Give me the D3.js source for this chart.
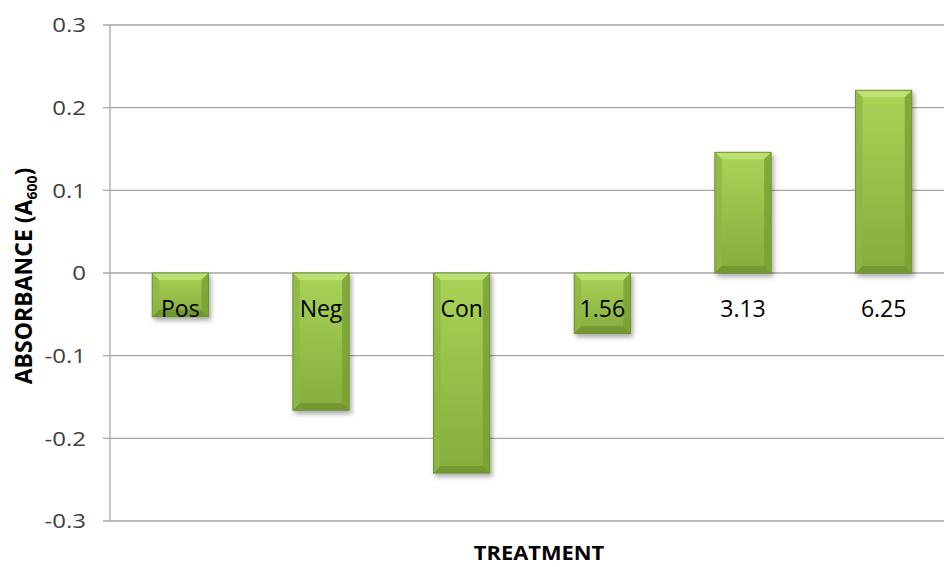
<!DOCTYPE html>
<html>
<head>
<meta charset="utf-8">
<script src="https://cdn.jsdelivr.net/npm/d3@7"></script>
<style>
  html, body { margin: 0; padding: 0; background: #fff; }
  svg { display: block; }
</style>
</head>
<body>
<svg id="chart" width="944" height="567"></svg>
<script>
// Treatment groups and measured absorbance
const categories = ["Pos", "Neg", "Con", "1.56", "3.13", "6.25"];
const absorbance = [-0.053, -0.166, -0.242, -0.073, 0.146, 0.221];
const yTicks = [0.3, 0.2, 0.1, 0, -0.1, -0.2, -0.3];

const svg = d3.select("#chart");
const font = "'Open Sans', 'Noto Sans', 'DejaVu Sans', sans-serif";

const x = d3.scaleBand().domain(categories).range([110, 954]).paddingInner(0.6).paddingOuter(0.3);
const y = d3.scaleLinear().domain([-0.3, 0.3]).range([521, 25]);

const defs = svg.append("defs");
const grad = defs.append("linearGradient").attr("id", "barFill")
  .attr("x1", 0).attr("y1", 0).attr("x2", 0).attr("y2", 1);
grad.append("stop").attr("offset", "0%").attr("stop-color", "#a9d457");
grad.append("stop").attr("offset", "100%").attr("stop-color", "#86ac3d");

const shadow = defs.append("filter").attr("id", "shadow")
  .attr("x", "-20%").attr("y", "-20%").attr("width", "150%").attr("height", "150%");
shadow.append("feDropShadow").attr("dx", 2).attr("dy", 3).attr("stdDeviation", 2.5)
  .attr("flood-color", "#000").attr("flood-opacity", 0.35);

// Gridlines
svg.append("g").selectAll("line").data(yTicks).join("line")
  .attr("x1", 103).attr("x2", 944)
  .attr("y1", d => y(d)).attr("y2", d => y(d))
  .attr("stroke", "#a6a6a6").attr("stroke-width", 1.3);

// Y axis line
svg.append("line").attr("x1", 110).attr("x2", 110).attr("y1", y(0.3)).attr("y2", y(-0.3))
  .attr("stroke", "#a6a6a6").attr("stroke-width", 1.3);

// Y tick labels (plain hyphen for negatives)
svg.append("g").selectAll("text").data(yTicks).join("text")
  .attr("transform", d => `translate(86,${y(d)}) scale(1.2,1)`)
  .attr("dy", "0.36em").attr("text-anchor", "end")
  .attr("font-family", font).attr("font-size", 20).attr("fill", "#404040")
  .text(d => d === 0 ? "0" : d.toFixed(1));

// Bars with bevelled edges
const bev = 7;
const bars = svg.append("g").selectAll("g").data(categories.map((c, i) => ({c, v: absorbance[i]}))).join("g")
  .attr("filter", "url(#shadow)");

bars.each(function(d) {
  const g = d3.select(this);
  const x0 = x(d.c), w = x.bandwidth();
  const y0 = Math.min(y(0), y(d.v)), h = Math.abs(y(d.v) - y(0));
  const x1 = x0 + w, y1 = y0 + h;
  g.append("rect").attr("x", x0).attr("y", y0).attr("width", w).attr("height", h)
    .attr("fill", "url(#barFill)");
  // top bevel
  g.append("path").attr("d", `M${x0},${y0}L${x1},${y0}L${x1 - bev},${y0 + bev}L${x0 + bev},${y0 + bev}Z`)
    .attr("fill", "#c4e47e").attr("opacity", 0.75);
  // left bevel
  g.append("path").attr("d", `M${x0},${y0}L${x0 + bev},${y0 + bev}L${x0 + bev},${y1 - bev}L${x0},${y1}Z`)
    .attr("fill", "#8fb744").attr("opacity", 0.8);
  // right bevel
  g.append("path").attr("d", `M${x1},${y0}L${x1},${y1}L${x1 - bev},${y1 - bev}L${x1 - bev},${y0 + bev}Z`)
    .attr("fill", "#78a032").attr("opacity", 0.8);
  // bottom bevel
  g.append("path").attr("d", `M${x0},${y1}L${x1},${y1}L${x1 - bev},${y1 - bev}L${x0 + bev},${y1 - bev}Z`)
    .attr("fill", "#6e9230").attr("opacity", 0.8);
  g.append("rect").attr("x", x0).attr("y", y0).attr("width", w).attr("height", h)
    .attr("fill", "none").attr("stroke", "#6f9130").attr("stroke-width", 1);
});

// Category labels
svg.append("g").selectAll("text").data(categories).join("text")
  .attr("transform", d => `translate(${x(d) + x.bandwidth() / 2},309)`)
  .attr("dy", "0.36em").attr("text-anchor", "middle")
  .attr("font-family", font).attr("font-size", 23).attr("fill", "#000")
  .text(d => d);

// Axis titles
svg.append("text").attr("transform", "translate(539,560) scale(1.15,1)").attr("text-anchor", "middle")
  .attr("font-family", font).attr("font-size", 19).attr("font-weight", "bold").attr("fill", "#000")
  .text("TREATMENT");

const yt = svg.append("text").attr("transform", "translate(32,276) rotate(-90)")
  .attr("text-anchor", "middle")
  .attr("font-family", font).attr("font-size", 23).attr("font-weight", "bold").attr("fill", "#000");
yt.append("tspan").text("ABSORBANCE (A");
yt.append("tspan").attr("font-size", 14).attr("dy", 5).text("600");
yt.append("tspan").attr("dy", -5).text(")");
</script>
</body>
</html>
